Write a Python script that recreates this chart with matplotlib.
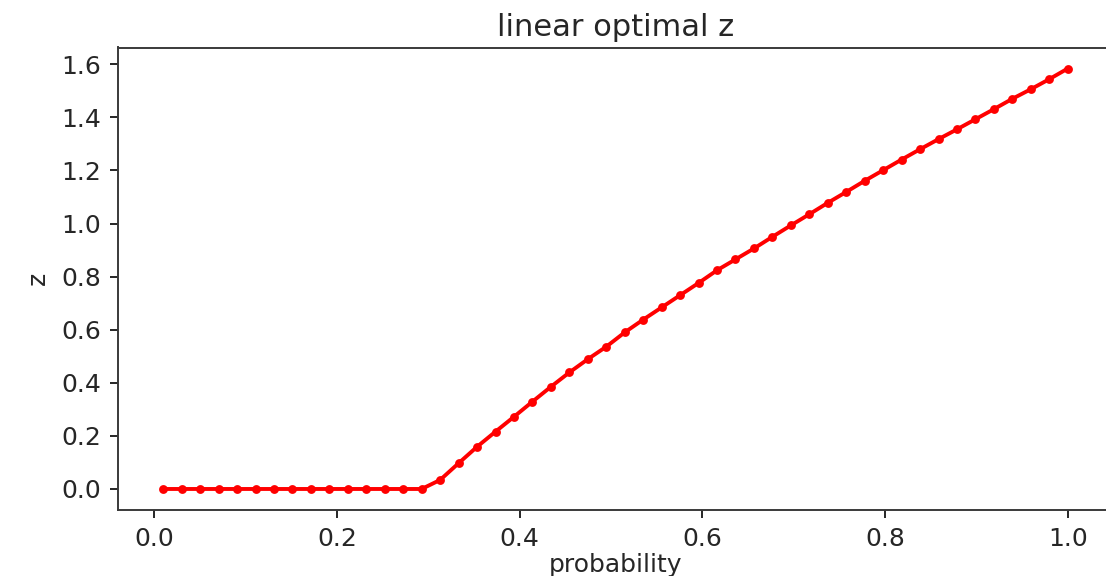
import numpy as np
import matplotlib
matplotlib.use("Agg")
import matplotlib.pyplot as plt

# probability grid and the optimal z found at each probability
probability = np.linspace(0.01, 1.0, 50)
z_opt = [
    0.0, 0.0, 0.0, 0.0, 0.0, 0.0, 0.0, 0.0, 0.0, 0.0,
    0.0, 0.0, 0.0, 0.0, 0.0, 0.034, 0.097, 0.159, 0.216, 0.272,
    0.329, 0.385, 0.439, 0.489, 0.536, 0.590, 0.638, 0.684, 0.730, 0.776,
    0.824, 0.865, 0.906, 0.950, 0.993, 1.035, 1.078, 1.119, 1.161, 1.201,
    1.241, 1.280, 1.318, 1.355, 1.393, 1.431, 1.470, 1.506, 1.544, 1.584,
]

W, H, DPI = 1106, 576, 100
fig = plt.figure(figsize=(W / DPI, H / DPI), dpi=DPI)

left, right, top, bottom = 118, 1113, 47.5, 510
ax = fig.add_axes([left / W, 1 - bottom / H, (right - left) / W, (bottom - top) / H])

ax.plot(probability, z_opt, color="red", marker=".", linewidth=2.8,
        markersize=9.5, markeredgewidth=1.6)

ax.set_title("linear optimal z", fontsize=22, color="#262626", pad=8)
ax.set_xlabel("probability", fontsize=18, color="#262626", labelpad=2)
ax.set_ylabel("z", fontsize=18, color="#262626", labelpad=8)

ax.set_xticks([0.0, 0.2, 0.4, 0.6, 0.8, 1.0])
ax.set_yticks([0.0, 0.2, 0.4, 0.6, 0.8, 1.0, 1.2, 1.4, 1.6])
ax.tick_params(labelsize=18, length=6, width=1.4, colors="#262626", pad=6)
for s in ax.spines.values():
    s.set_linewidth(1.4)
    s.set_color("#3a3a3a")

fig.savefig("out.png", dpi=DPI)
